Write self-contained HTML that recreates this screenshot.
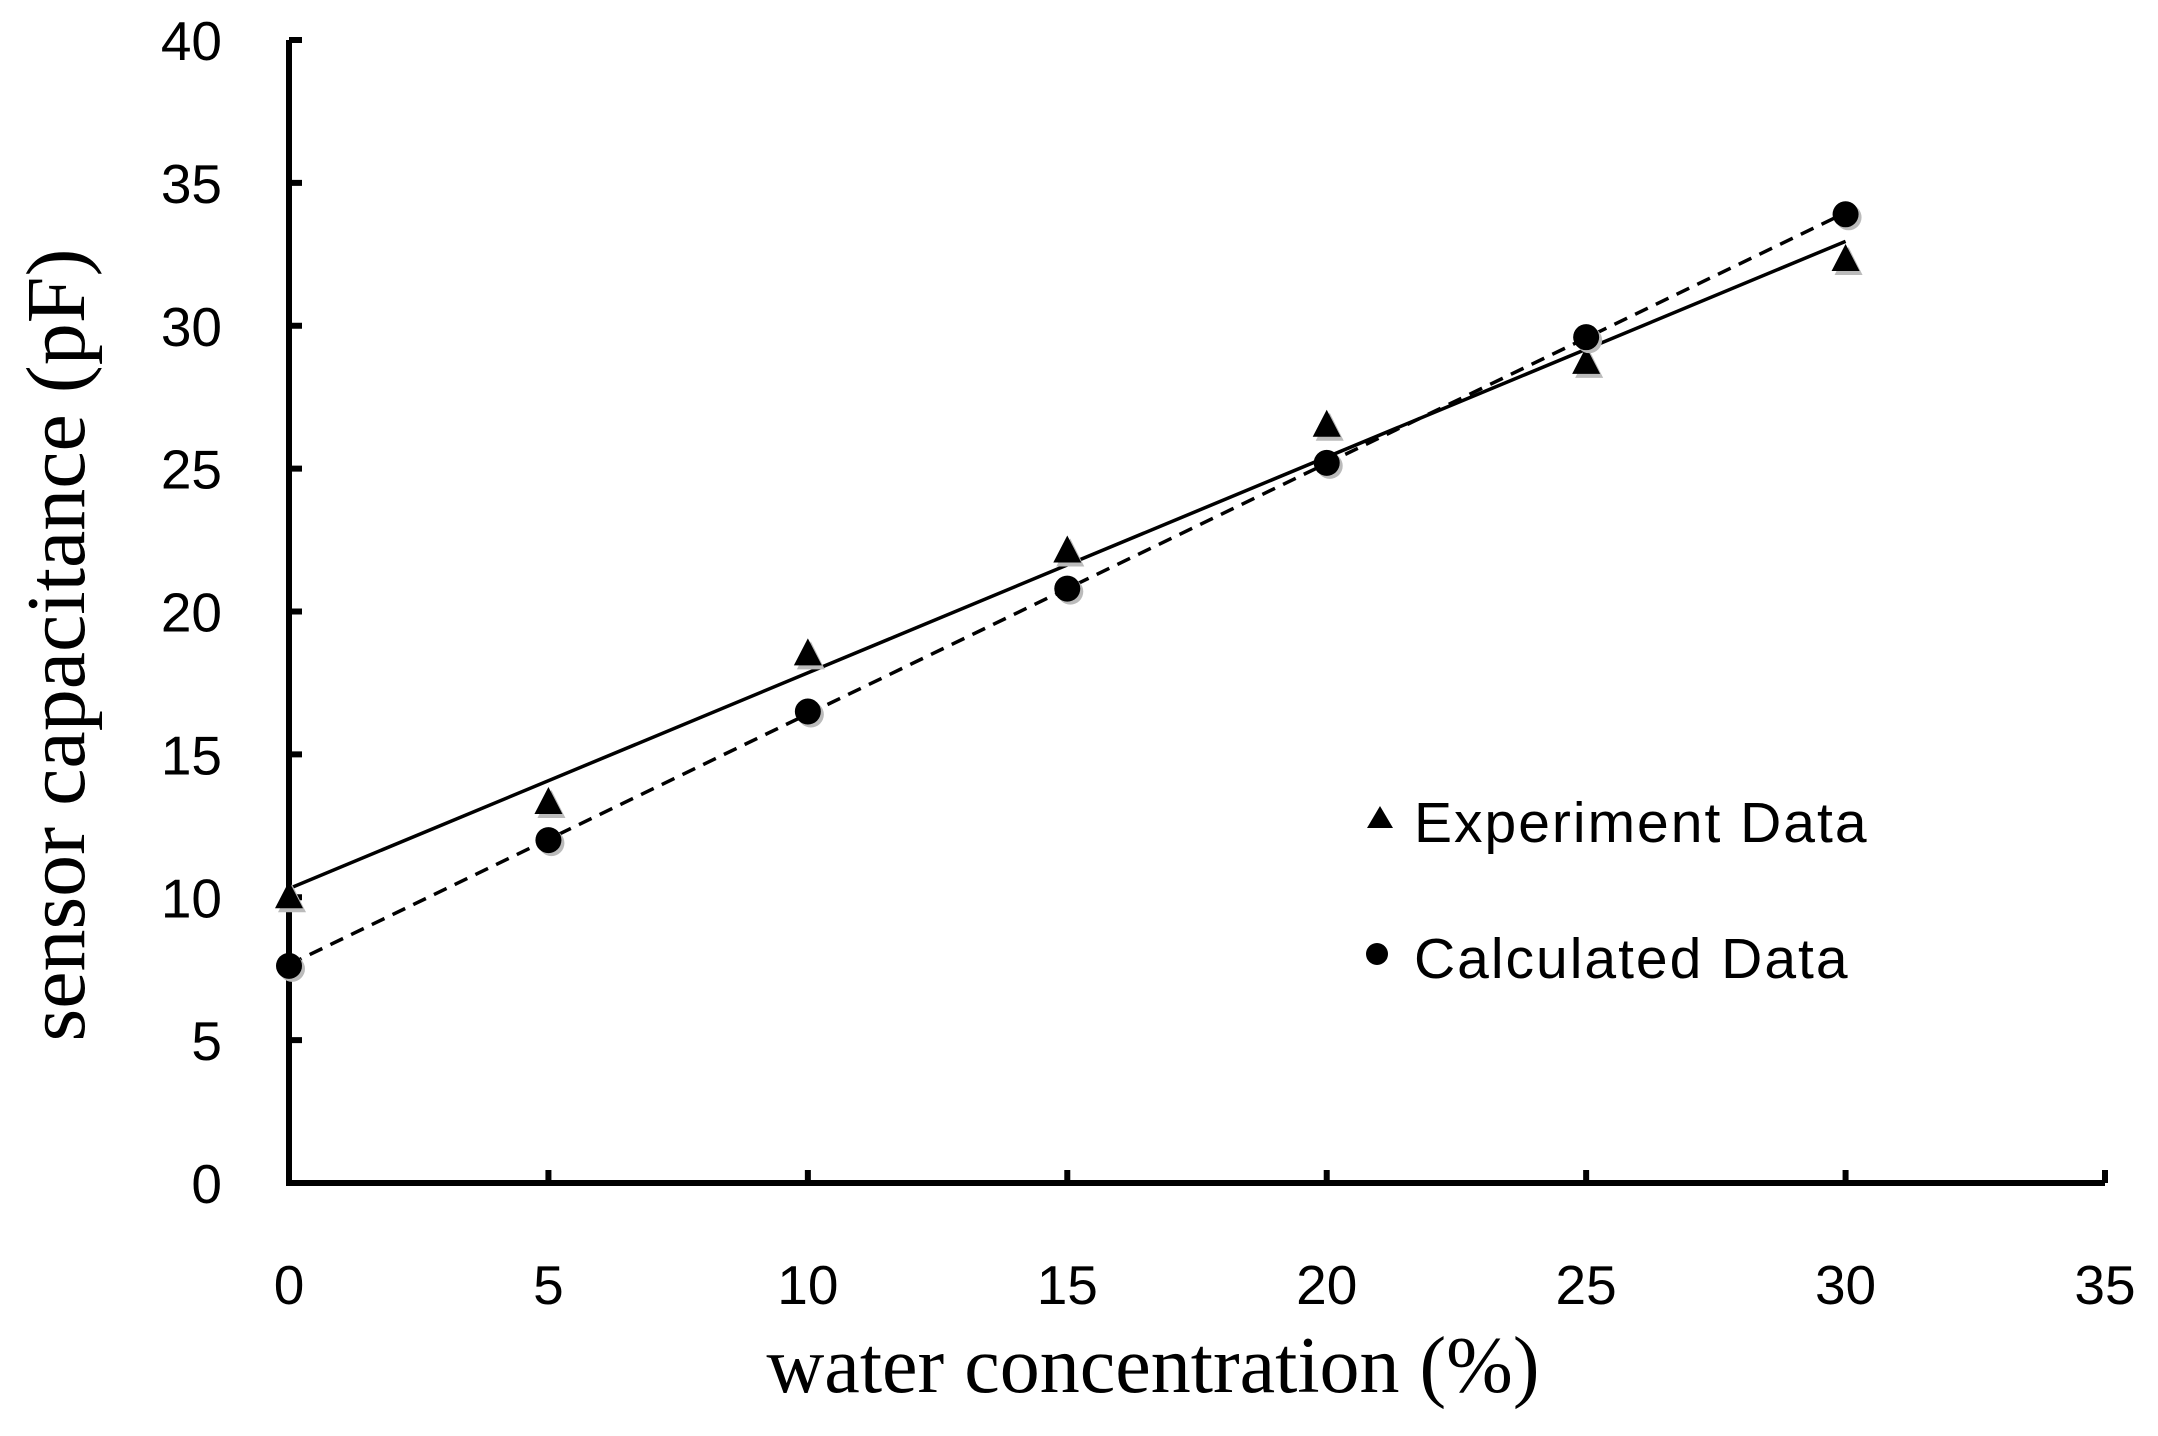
<!DOCTYPE html>
<html><head><meta charset="utf-8"><style>
html,body{margin:0;padding:0;background:#fff}
svg{display:block}
</style></head><body>
<svg id="chart" width="2158" height="1436" viewBox="0 0 2158 1436" xmlns="http://www.w3.org/2000/svg">
<g id="axes"></g>
<g id="lines"></g>
<g id="marks"></g>
<text x="1153" y="1392" text-anchor="middle" font-family="Liberation Serif, serif" font-size="80">water concentration (%)</text>
<text transform="translate(84,645) rotate(-90)" text-anchor="middle" font-family="Liberation Serif, serif" font-size="84">sensor capacitance (pF)</text>
<g>
<polygon points="1380,806 1393,828 1367,828" fill="#000"/>
<text x="1414" y="842" font-family="Liberation Sans, sans-serif" font-size="57" letter-spacing="2">Experiment Data</text>
<circle cx="1377" cy="954" r="11" fill="#000"/>
<text x="1414" y="978" font-family="Liberation Sans, sans-serif" font-size="57" letter-spacing="2">Calculated Data</text>
</g>
</svg>
<script>
const xTicks = [0,5,10,15,20,25,30,35];
const yTicks = [0,5,10,15,20,25,30,35,40];
const xValues = [0,5,10,15,20,25,30];
const experimentValues = [10.0,13.3,18.5,22.1,26.5,28.7,32.3];
const calculatedValues = [7.6,12.0,16.5,20.8,25.2,29.6,33.9];

const X0=289, X1=2105, Y0=1183, Y1=40;
function sx(v){return X0+(v-0)/35*(X1-X0);}
function sy(v){return Y0-(v-0)/40*(Y0-Y1);}
const NS="http://www.w3.org/2000/svg";
function mk(tag,attrs,parent){const e=document.createElementNS(NS,tag);for(const k in attrs)e.setAttribute(k,attrs[k]);parent.appendChild(e);return e;}
const axes=document.getElementById('axes'),lines=document.getElementById('lines'),marks=document.getElementById('marks');

let a=mk('path',{d:`M${X0},${Y1} V${Y0} H${X1}`,stroke:'#000','stroke-width':6,fill:'none'},axes);


yTicks.forEach(v=>{
  let t=mk('line',{x1:X0,x2:X0+13,y1:sy(v),y2:sy(v),stroke:'#000','stroke-width':6},axes);
  
  
  let l=mk('text',{x:222,y:sy(v)+20,'text-anchor':'end','font-family':'Liberation Sans, sans-serif','font-size':55},axes);
  l.textContent=v;
  
  
});
xTicks.forEach(v=>{
  let t=mk('line',{x1:sx(v),x2:sx(v),y1:Y0,y2:Y0-13,stroke:'#000','stroke-width':6},axes);
  
  
  let l=mk('text',{x:sx(v),y:1304,'text-anchor':'middle','font-family':'Liberation Sans, sans-serif','font-size':55},axes);
  l.textContent=v;
  
  
});
function fit(ys){const n=xValues.length;const mx=xValues.reduce((s,v)=>s+v,0)/n,my=ys.reduce((s,v)=>s+v,0)/n;let num=0,den=0;xValues.forEach((x,i)=>{num+=(x-mx)*(ys[i]-my);den+=(x-mx)*(x-mx);});const b=num/den;return [my-b*mx,b];}
const fe=fit(experimentValues), fc=fit(calculatedValues);
let l1=mk('line',{x1:sx(0),y1:sy(fe[0]),x2:sx(30),y2:sy(fe[0]+fe[1]*30),stroke:'#000','stroke-width':3.5},lines);


let l2=mk('line',{x1:sx(0),y1:sy(fc[0]),x2:sx(30),y2:sy(fc[0]+fc[1]*30),stroke:'#000','stroke-width':3.5,'stroke-dasharray':'14,9'},lines);


xValues.forEach((x,i)=>{
  const cx=sx(x), ty=sy(experimentValues[i]);
  let sh=mk('polygon',{points:`${cx+3},${ty-13} ${cx+17},${ty+15} ${cx-11},${ty+15}`,fill:'#bbb'},marks);
  
  
  let p=mk('polygon',{points:`${cx},${ty-16} ${cx+14},${ty+11} ${cx-14},${ty+11}`,fill:'#000'},marks);
  
  
  const cy=sy(calculatedValues[i]);
  let cs=mk('circle',{cx:cx+3,cy:cy+3,r:13,fill:'#bbb'},marks);
  
  
  let c=mk('circle',{cx:cx,cy:cy,r:13,fill:'#000'},marks);
  
  
});
</script>
</body></html>
